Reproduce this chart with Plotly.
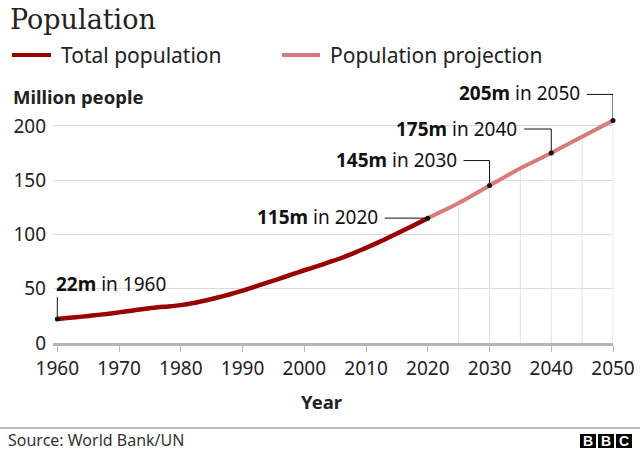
import plotly.graph_objects as go

# ---- data ----
hist_years = [1960, 1962, 1964, 1966, 1968, 1970, 1972, 1974, 1976, 1978, 1980, 1982, 1984,
              1986, 1988, 1990, 1992, 1994, 1996, 1998, 2000, 2002, 2004, 2006, 2008, 2010,
              2012, 2014, 2016, 2018, 2020]
hist_values = [22.2, 23.2, 24.3, 25.5, 26.8, 28.2, 29.8, 31.4, 32.8, 33.7, 34.9, 36.8, 39.2,
               41.9, 44.9, 48.2, 51.9, 55.6, 59.3, 63.2, 67.0, 70.6, 74.4, 78.3, 82.8, 87.6,
               92.7, 98.1, 103.6, 109.2, 115.0]
proj_years = [2020, 2025, 2030, 2035, 2040, 2045, 2050]
proj_values = [115.0, 129.0, 145.0, 161.0, 175.0, 190.0, 205.0]

label_years = [1960, 2020, 2030, 2040, 2050]
label_values = [22, 115, 145, 175, 205]
label_texts = ["<b>22m</b> in 1960", "<b>115m</b> in 2020", "<b>145m</b> in 2030",
               "<b>175m</b> in 2040", "<b>205m</b> in 2050"]

x_ticks = [1960, 1970, 1980, 1990, 2000, 2010, 2020, 2030, 2040, 2050]
y_ticks = [0, 50, 100, 150, 200]

DARK = "#990000"
LIGHT = "#d77a78"
FONT = "Noto Sans"

W, H = 640, 452
Y_MAX = 245
PX_PER_UNIT = 1.0857
L, R, B = 53, 27, 109
PH = Y_MAX * PX_PER_UNIT
T = H - B - PH
PW = W - L - R


def px(x):
    return (x - L) / PW


def py(y):
    return (H - B - y) / PH


fig = go.Figure()
fig.add_trace(go.Scatter(x=hist_years, y=hist_values, mode="lines",
                         line=dict(color=DARK, width=4.5, shape="spline", smoothing=0.6),
                         cliponaxis=False, hoverinfo="skip", showlegend=False))
fig.add_trace(go.Scatter(x=proj_years, y=proj_values, mode="lines",
                         line=dict(color=LIGHT, width=4, shape="spline", smoothing=0.6),
                         cliponaxis=False, hoverinfo="skip", showlegend=False))
fig.add_trace(go.Scatter(x=label_years, y=label_values, mode="markers",
                         marker=dict(color="#111", size=5),
                         cliponaxis=False, hoverinfo="skip", showlegend=False))

shapes = []
# vertical gridlines in projection period, from 0 up to the projection value
for yr, v in zip(proj_years[1:], proj_values[1:]):
    shapes.append(dict(type="line", xref="x", yref="y", x0=yr, x1=yr, y0=0, y1=v,
                       line=dict(color="#e2e2e2", width=1), layer="below"))

# leader lines (pixel offsets relative to each labelled point)
leader_paths = {
    1960: "M0,0 L0,22",
    2020: "M0,0 L-43,0",
    2030: "M0,0 L0,25 L-26,25",
    2040: "M0,0 L0,24 L-27,24",
    2050: "M0,0 L0,26 L-26,26",
}
for yr, v in zip(label_years, label_values):
    shapes.append(dict(type="path", xref="x", yref="y", xsizemode="pixel", ysizemode="pixel",
                       xanchor=yr, yanchor=v, path=leader_paths[yr],
                       line=dict(color="#111", width=1)))

# legend samples
shapes.append(dict(type="line", xref="paper", yref="paper", x0=px(12), x1=px(51),
                   y0=py(55), y1=py(55), line=dict(color=DARK, width=4)))
shapes.append(dict(type="line", xref="paper", yref="paper", x0=px(282), x1=px(320),
                   y0=py(55), y1=py(55), line=dict(color=LIGHT, width=4)))
# footer rule
shapes.append(dict(type="line", xref="paper", yref="paper", x0=px(0), x1=px(640),
                   y0=py(428), y1=py(428), line=dict(color="#777", width=1)))
# BBC blocks
for x0 in [580, 598, 616]:
    shapes.append(dict(type="rect", xref="paper", yref="paper", x0=px(x0), x1=px(x0 + 16),
                       y0=py(448), y1=py(434), fillcolor="#000", line=dict(width=0)))

annotations = []
label_offsets = {  # (xshift, yshift, xanchor)
    1960: (-3, 35, "left"),
    2020: (-48, 1, "right"),
    2030: (-31, 26, "right"),
    2040: (-32, 24, "right"),
    2050: (-31, 27, "right"),
}
for yr, v, t in zip(label_years, label_values, label_texts):
    xs, ys, xa = label_offsets[yr]
    annotations.append(dict(x=yr, y=v, xref="x", yref="y", text=t, showarrow=False,
                            xanchor=xa, yanchor="middle", xshift=xs, yshift=ys,
                            font=dict(family=FONT, size=19, color="#111")))

annotations += [
    dict(x=px(8), y=py(20), xref="paper", yref="paper", text="Population", showarrow=False,
         xanchor="left", yanchor="middle",
         font=dict(family="DejaVu Serif", size=27, color="#222")),
    dict(x=px(59), y=py(55), xref="paper", yref="paper", text="Total population",
         showarrow=False, xanchor="left", yanchor="middle",
         font=dict(family=FONT, size=21, color="#222")),
    dict(x=px(328), y=py(55), xref="paper", yref="paper", text="Population projection",
         showarrow=False, xanchor="left", yanchor="middle",
         font=dict(family=FONT, size=21, color="#222")),
    dict(x=px(11), y=py(97), xref="paper", yref="paper", text="<b>Million people</b>",
         showarrow=False, xanchor="left", yanchor="middle",
         font=dict(family=FONT, size=18.5, color="#222")),
    dict(x=px(322), y=py(401), xref="paper", yref="paper", text="<b>Year</b>",
         showarrow=False, xanchor="center", yanchor="middle",
         font=dict(family=FONT, size=18.5, color="#222")),
    dict(x=px(6), y=py(440), xref="paper", yref="paper", text="Source: World Bank/UN",
         showarrow=False, xanchor="left", yanchor="middle",
         font=dict(family=FONT, size=16, color="#333")),
]
for x0, letter in zip([580, 598, 616], ["B", "B", "C"]):
    annotations.append(dict(x=px(x0 + 8), y=py(441), xref="paper", yref="paper",
                            text="<b>" + letter + "</b>", showarrow=False,
                            xanchor="center", yanchor="middle",
                            font=dict(family="Liberation Sans", size=14, color="#fff")))

fig.update_layout(
    width=W, height=H,
    margin=dict(l=L, r=R, t=T, b=B, pad=0),
    paper_bgcolor="#fff", plot_bgcolor="#fff",
    shapes=shapes, annotations=annotations,
    showlegend=False,
    xaxis=dict(range=[1959.3, 2050], tickvals=x_ticks, ticktext=[str(v) for v in x_ticks],
               showgrid=False, zeroline=False, showline=True, linecolor="#b5b5b5", linewidth=3,
               ticks="outside", ticklen=6, tickcolor="#b5b5b5", tickwidth=1, automargin=False,
               tickfont=dict(family=FONT, size=19, color="#222"), fixedrange=True),
    yaxis=dict(range=[0, Y_MAX], tickvals=y_ticks, showgrid=True, gridcolor="#dcdcdc", gridwidth=1,
               zeroline=False, showline=False, ticks="", ticklabelstandoff=6, automargin=False,
               tickfont=dict(family=FONT, size=19, color="#222"), fixedrange=True),
)

fig.write_html("out.html", config={"displayModeBar": False})
